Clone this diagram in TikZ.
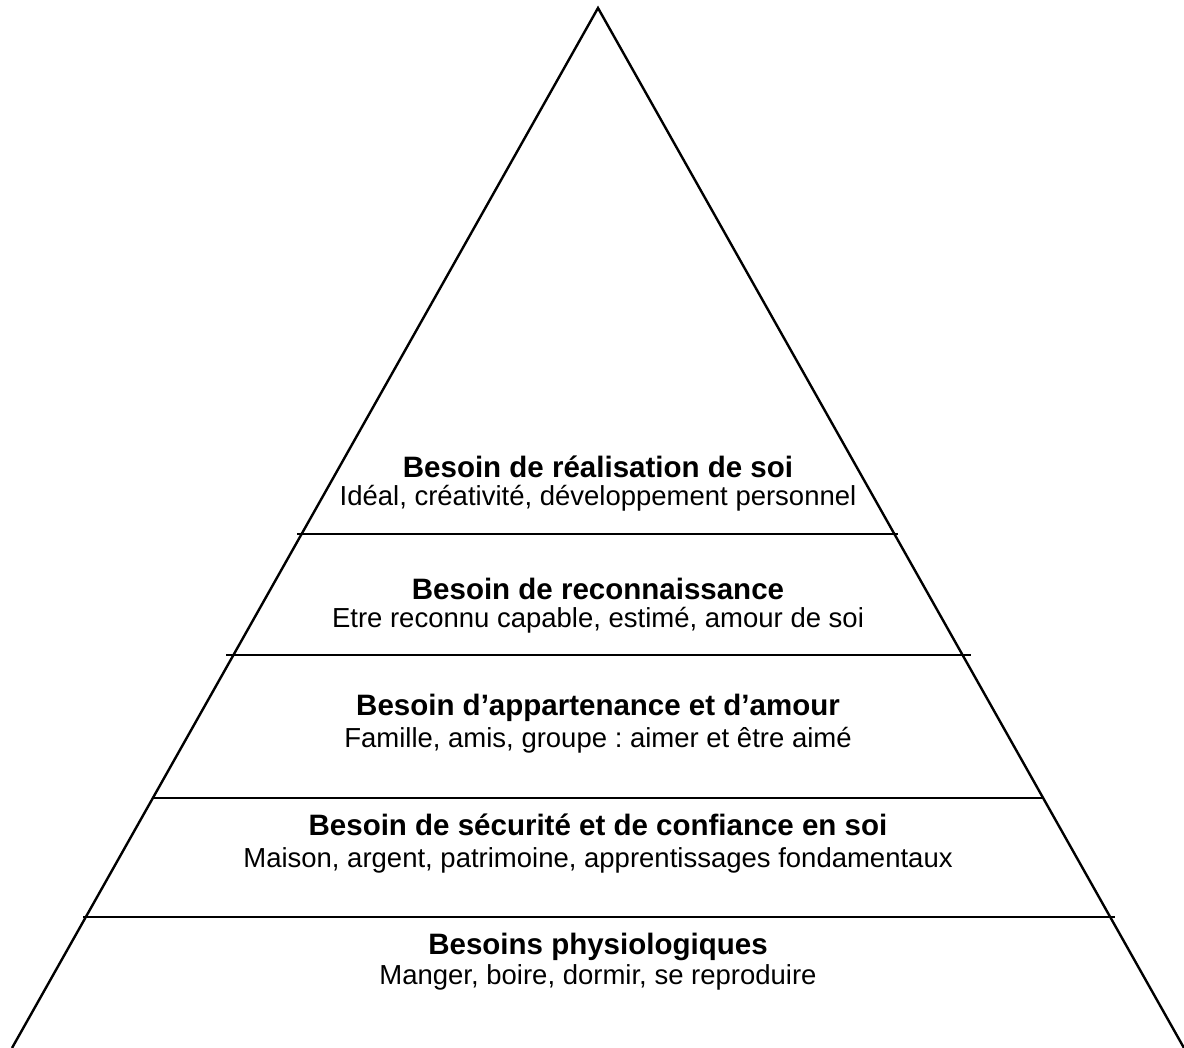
\documentclass[tikz,border=0pt]{standalone}
\usepackage{fontspec}
\setmainfont{Liberation Sans}
\frenchspacing
\begin{document}
\begin{tikzpicture}[x=1pt,y=-1pt,
  edge/.style={line width=2.4pt,line join=miter},
  sep/.style={line width=2.4pt},
  ttl/.style={font=\fontsize{29.5}{34}\selectfont\bfseries,inner sep=0pt,anchor=base},
  sub/.style={font=\fontsize{27.5}{32}\selectfont,inner sep=0pt,anchor=base}]
\useasboundingbox (0,0) rectangle (1184,1048);
\coordinate (apex) at (598,8);
\coordinate (bl) at (12,1048);
\coordinate (br) at (1184,1048);
\draw[edge] (bl) -- (apex) -- (br);
\coordinate (l1a) at (297,534); \coordinate (l1b) at (898,534);
\coordinate (l2a) at (226,655); \coordinate (l2b) at (971,655);
\coordinate (l3a) at (153,798); \coordinate (l3b) at (1043,798);
\coordinate (l4a) at (83,917);  \coordinate (l4b) at (1115,917);
\draw[sep] (l1a) -- (l1b);
\draw[sep] (l2a) -- (l2b);
\draw[sep] (l3a) -- (l3b);
\draw[sep] (l4a) -- (l4b);
\node[ttl] (t1) at (598,478) {Besoin de réalisation de soi};
\node[sub] (s1) at (598,506) {Idéal, créativité, développement personnel};
\node[ttl] (t2) at (598,599) {Besoin de reconnaissance};
\node[sub] (s2) at (598,627) {Etre reconnu capable, estimé, amour de soi};
\node[ttl] (t3) at (598,715) {Besoin d’appartenance et d’amour};
\node[sub] (s3) at (598,747) {Famille, amis, groupe : aimer et être aimé};
\node[ttl] (t4) at (598,835) {Besoin de sécurité et de confiance en soi};
\node[sub] (s4) at (598,867) {Maison, argent, patrimoine, apprentissages fondamentaux};
\node[ttl] (t5) at (598,954) {Besoins physiologiques};
\node[sub] (s5) at (598,984) {Manger, boire, dormir, se reproduire};
\end{tikzpicture}
\end{document}
